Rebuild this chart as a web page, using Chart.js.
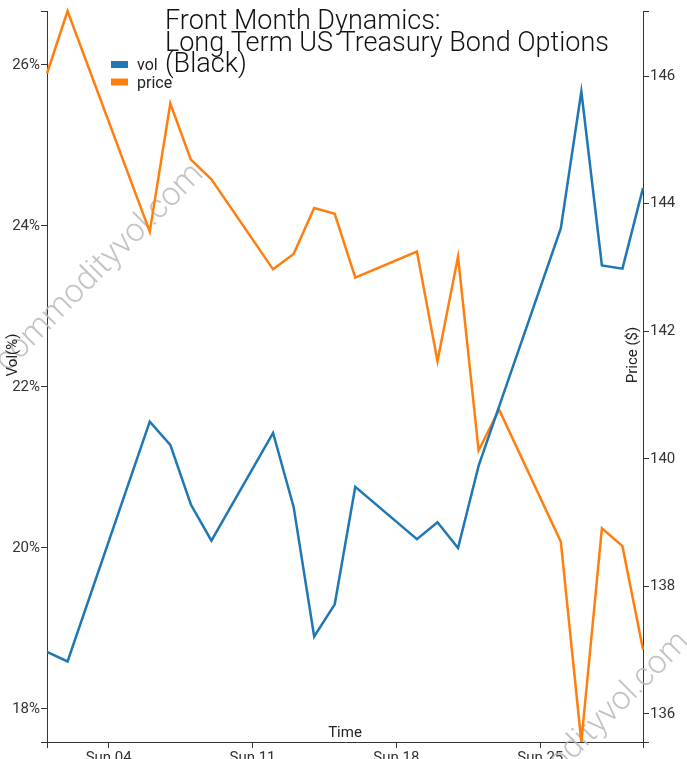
<!DOCTYPE html>
<html>
<head>
<meta charset="utf-8">
<script src="https://cdn.jsdelivr.net/npm/chart.js@4.4.1/dist/chart.umd.min.js"></script>
<style>
  html, body { margin: 0; padding: 0; background: #fff; }
  canvas { display: block; }
</style>
</head>
<body>
<canvas id="chart" width="687" height="759"></canvas>
<script>
// Data (August 2024, day of month).
const days = [1, 2, 6, 7, 8, 9, 12, 13, 14, 15, 16, 19, 20, 21, 22, 23, 26, 27, 28, 29, 30];
const vol = [18.71, 18.59, 21.57, 21.28, 20.54, 20.09, 21.43, 20.51, 18.90, 19.30, 20.76,
  20.11, 20.32, 20.00, 21.02, 21.76, 23.97, 25.67, 23.51, 23.47, 24.47];
const price = [146.04, 147.02, 143.56, 145.57, 144.69, 144.38, 142.97, 143.21, 143.93, 143.84, 142.84,
  143.25, 141.53, 143.17, 140.13, 140.77, 138.70, 135.56, 138.91, 138.63, 137.01];
const xTickDays = [4, 11, 18, 25];
const xTickLabels = ['Sun 04', 'Sun 11', 'Sun 18', 'Sun 25'];
const volTicks = [18, 20, 22, 24, 26];
const priceTicks = [136, 138, 140, 142, 144, 146];
const titleLines = ['Front Month Dynamics:', 'Long Term US Treasury Bond Options', '(Black)'];

const FONT = 'Roboto, "Open Sans", sans-serif';
const AXIS = '#333';

const volMin = Math.min(...vol) - 1;
const volMax = Math.max(...vol) + 1;
const priceMin = Math.min(...price);
const priceMax = Math.max(...price);

function setTicks(values) {
  return (scale) => {
    scale.ticks = [scale.min, ...values, scale.max].map((v) => ({value: v}));
  };
}

function axisGrid() {
  return {
    display: true,
    drawOnChartArea: false,
    drawTicks: true,
    tickLength: 6,
    color: AXIS,
    lineWidth: 1,
  };
}

const decorations = {
  id: 'decorations',
  beforeDatasetsDraw(chart) {
    const ctx = chart.ctx;
    ctx.save();
    ctx.fillStyle = 'rgba(185,185,185,0.85)';
    ctx.font = '300 33px ' + FONT;
    ctx.textAlign = 'center';
    ctx.textBaseline = 'middle';
    [[100, 268], [586, 736]].forEach(([cx, cy]) => {
      ctx.save();
      ctx.translate(cx, cy);
      ctx.rotate(-Math.PI / 4);
      ctx.fillText('commodityvol.com', 0, 0);
      ctx.restore();
    });
    ctx.restore();
  },
  afterDraw(chart) {
    const ctx = chart.ctx;
    const area = chart.chartArea;
    ctx.save();

    // title
    ctx.fillStyle = '#111';
    ctx.font = '300 27px ' + FONT;
    ctx.textAlign = 'left';
    ctx.textBaseline = 'alphabetic';
    titleLines.forEach((line, i) => ctx.fillText(line, 165, 29 + i * 21.5));

    // legend
    ctx.font = '16px ' + FONT;
    chart.data.datasets.forEach((ds, i) => {
      const y = 61 + i * 17.5;
      ctx.fillStyle = ds.borderColor;
      ctx.fillRect(111, y, 17, 7);
      ctx.fillStyle = '#222';
      ctx.fillText(ds.label, 137, y + 9);
    });

    // axis titles
    ctx.fillStyle = '#222';
    ctx.font = '15px ' + FONT;
    ctx.textAlign = 'center';
    ctx.fillText('Time', (area.left + area.right) / 2, 737);
    [[17, 'Vol(%)'], [637, 'Price ($)']].forEach(([x, text]) => {
      ctx.save();
      ctx.translate(x, 355);
      ctx.rotate(-Math.PI / 2);
      ctx.fillText(text, 0, 0);
      ctx.restore();
    });
    ctx.restore();
  },
};

new Chart(document.getElementById('chart'), {
  type: 'line',
  data: {
    datasets: [
      {
        label: 'vol',
        data: days.map((d, i) => ({x: d, y: vol[i]})),
        borderColor: '#1f77b4',
        yAxisID: 'y',
        clip: false,
      },
      {
        label: 'price',
        data: days.map((d, i) => ({x: d, y: price[i]})),
        borderColor: '#ff7f0e',
        yAxisID: 'y1',
        clip: false,
      },
    ],
  },
  options: {
    responsive: false,
    animation: false,
    layout: {padding: {top: 11, left: 0, right: 0, bottom: 0}},
    elements: {
      line: {borderWidth: 2.5, tension: 0, fill: false},
      point: {radius: 0},
    },
    plugins: {
      legend: {display: false},
      tooltip: {enabled: false},
    },
    scales: {
      x: {
        type: 'linear',
        position: 'bottom',
        min: 1,
        max: 30,
        afterBuildTicks: setTicks(xTickDays),
        afterFit: (s) => { s.height = 17; },
        grid: axisGrid(),
        border: {display: true, color: AXIS, width: 1},
        ticks: {
          color: AXIS,
          font: {family: FONT, size: 15},
          padding: 1,
          maxRotation: 0,
          autoSkip: false,
          callback: (v) => {
            const i = xTickDays.indexOf(v);
            return i >= 0 ? xTickLabels[i] : '';
          },
        },
      },
      y: {
        type: 'linear',
        position: 'left',
        min: volMin,
        max: volMax,
        afterBuildTicks: setTicks(volTicks),
        afterFit: (s) => { s.width = 47; },
        grid: axisGrid(),
        border: {display: true, color: AXIS, width: 1},
        ticks: {
          color: AXIS,
          font: {family: FONT, size: 15},
          padding: 1,
          autoSkip: false,
          callback: (v) => (volTicks.includes(v) ? v + '%' : ''),
        },
      },
      y1: {
        type: 'linear',
        position: 'right',
        min: priceMin,
        max: priceMax,
        afterBuildTicks: setTicks(priceTicks),
        afterFit: (s) => { s.width = 44; },
        grid: axisGrid(),
        border: {display: true, color: AXIS, width: 1},
        ticks: {
          color: AXIS,
          font: {family: FONT, size: 15},
          padding: 1,
          autoSkip: false,
          callback: (v) => (priceTicks.includes(v) ? String(v) : ''),
        },
      },
    },
  },
  plugins: [decorations],
});
</script>
</body>
</html>
